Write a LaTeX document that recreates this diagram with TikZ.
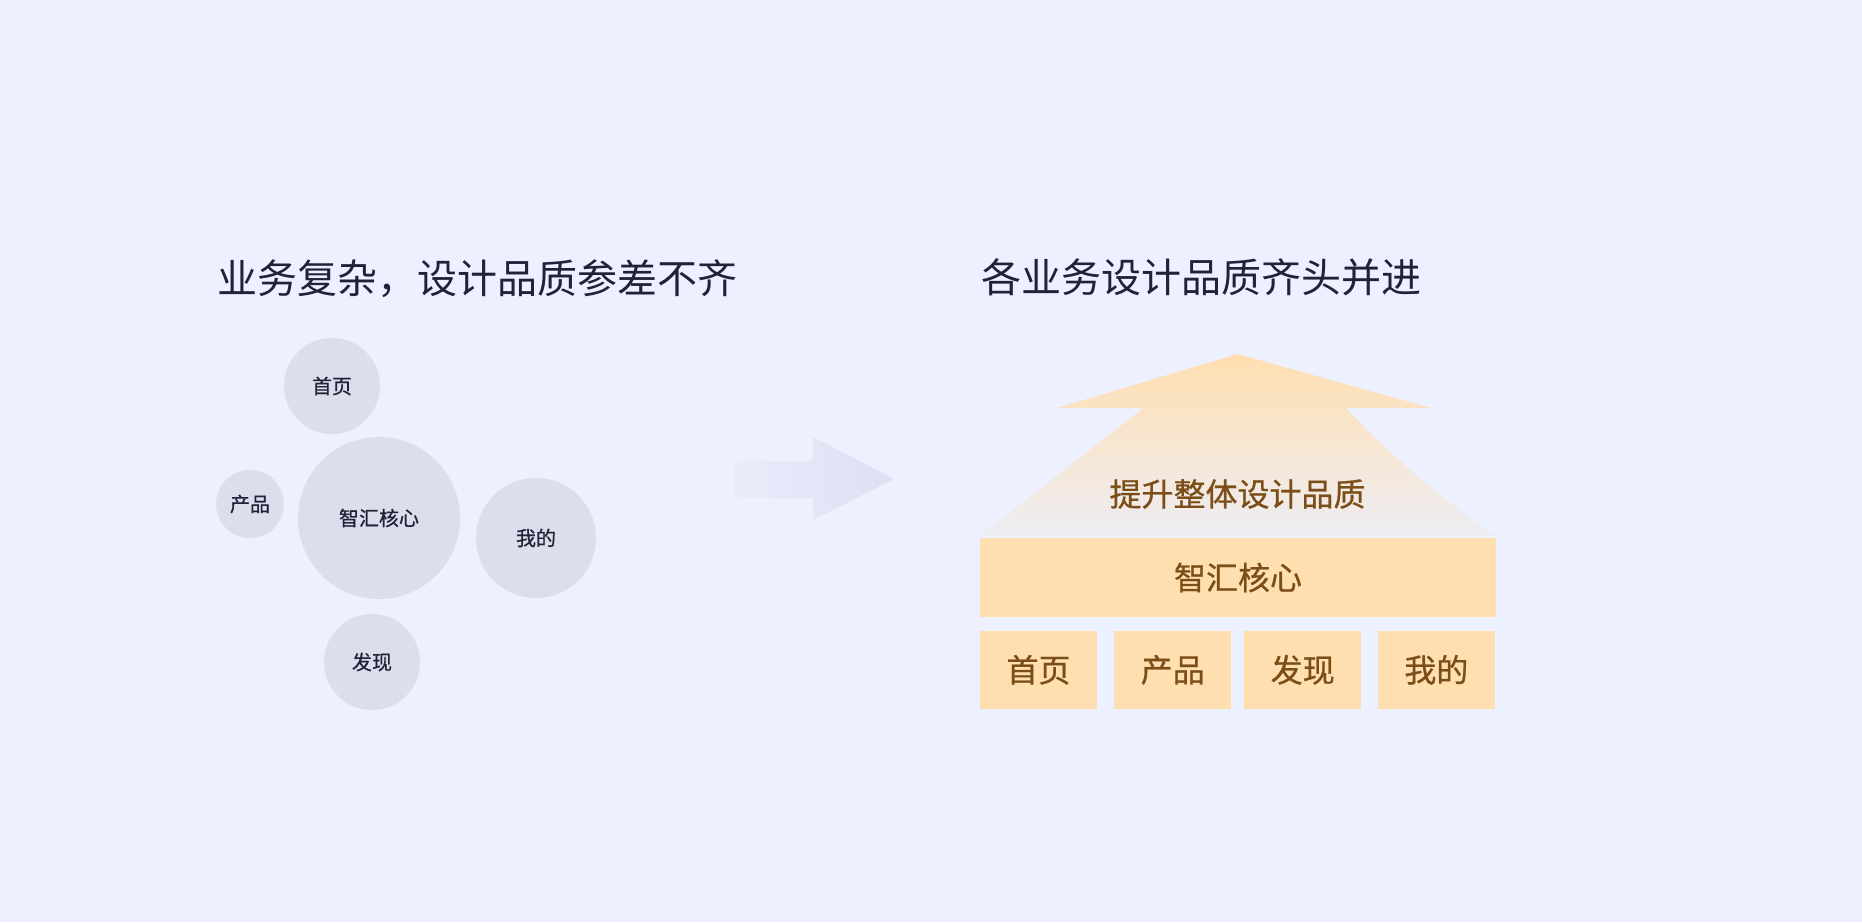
\documentclass[tikz,border=0pt]{standalone}
\usepackage{fontspec}
\setmainfont{Noto Sans CJK SC}
\newfontfamily\medfont[FakeBold=0.7]{Noto Sans CJK SC}
\definecolor{bgc}{HTML}{EDF0FE}
\definecolor{titlec}{HTML}{1F2238}
\definecolor{bubblec}{HTML}{DADFEB}
\definecolor{boxc}{HTML}{FFDFB0}
\definecolor{brownc}{HTML}{7B4D17}
\definecolor{fadetop}{HTML}{FFDFB0}
\definecolor{fadebot}{HTML}{EEEDF4}
\definecolor{arrowl}{HTML}{E9ECFB}
\definecolor{arrowr}{HTML}{DCE0F0}
\begin{document}
\begin{tikzpicture}[x=1pt,y=-1pt,
  title/.style={font=\fontsize{40}{48}\selectfont, text=titlec, anchor=west, inner sep=0pt},
  bubble/.style={circle, fill=bubblec, inner sep=0pt, text=titlec, font=\medfont\fontsize{20}{24}\selectfont},
  block/.style={rectangle, fill=boxc, inner sep=0pt, text=brownc, font=\medfont\fontsize{32}{38}\selectfont},
  lift/.style={text=brownc, inner sep=0pt, font=\medfont\fontsize{32}{38}\selectfont}]
\fill[bgc] (0,0) rectangle (1862,922);
\useasboundingbox (0,0) rectangle (1862,922);

% titles
\node[title] (tl) at (217,279) {业务复杂，设计品质参差不齐};
\node[title] (tr) at (981,277.5) {各业务设计品质齐头并进};

% bubbles
\node[bubble, minimum size=96pt]  (home)  at (332,386) {首页};
\node[bubble, minimum size=68pt]  (prod)  at (250,504) {产品};
\node[bubble, minimum size=162pt] (core)  at (379,518) {智汇核心};
\node[bubble, minimum size=120pt] (mine)  at (536,538) {我的};
\node[bubble, minimum size=96pt]  (disc)  at (372,662) {发现};

% middle arrow
\shade[left color=arrowl, right color=arrowr, rounded corners=2.5pt]
  (734,461) -- (813,461) -- (813,437) -- (894,479) -- (813,520) -- (813,498) -- (734,498) -- cycle;

% lifting arrow shape
\shade[top color=fadetop, bottom color=fadebot]
  (1237.5,354) -- (1431,408) -- (1345.7,408)
  .. controls (1391,456) and (1441,498.6) .. (1496,536)
  -- (980,536) -- (1143.6,408) -- (1057,408) -- cycle;
\node[lift] (lifttxt) at (1237.5,494) {提升整体设计品质};

% core bar and modules
\node[block, minimum width=516pt, minimum height=79pt] (bar) at (1238,577.5) {智汇核心};
\node[block, minimum width=117.5pt, minimum height=78.5pt] (b1) at (1038.5,669.8) {首页};
\node[block, minimum width=117.5pt, minimum height=78.5pt] (b2) at (1172.7,669.8) {产品};
\node[block, minimum width=117.5pt, minimum height=78.5pt] (b3) at (1302.7,669.8) {发现};
\node[block, minimum width=117.5pt, minimum height=78.5pt] (b4) at (1436.3,669.8) {我的};
\end{tikzpicture}
\end{document}
